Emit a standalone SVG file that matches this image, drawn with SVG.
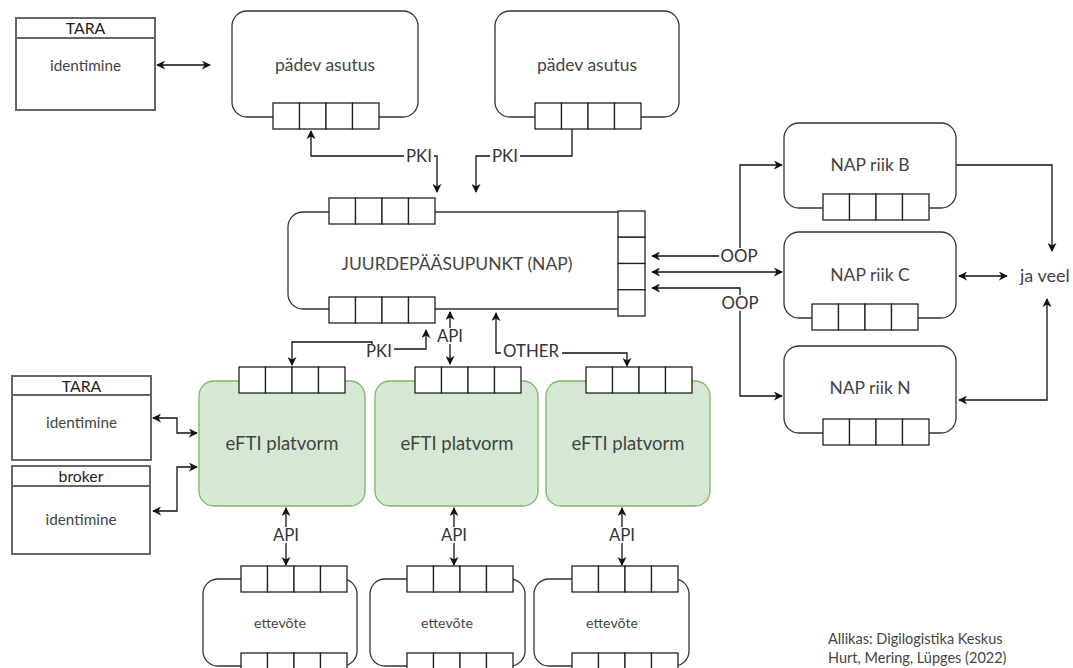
<svg xmlns="http://www.w3.org/2000/svg" xmlns:xlink="http://www.w3.org/1999/xlink" width="1073" height="668" viewBox="0 0 1073 668">
<style>
text{font-family:Lato,"Noto Sans","DejaVu Sans",sans-serif}
.box{fill:#fff;stroke:#333;stroke-width:1.3}
.green{fill:#d5e8d4;stroke:#82b366;stroke-width:1.3}
.sw{fill:#fff;stroke:#666;stroke-width:2}
.cell{fill:#fff;stroke:#222;stroke-width:1.3}
.t{font-size:17.5px;fill:#444;text-anchor:middle}
.ti{font-size:15.3px;fill:#444;text-anchor:middle}
.tb{font-size:18.5px;fill:#444;text-anchor:middle}
.ts{font-size:14.2px;fill:#444;text-anchor:middle}
.th{font-size:15.8px;fill:#222;text-anchor:middle}
.lab{font-size:16.8px;fill:#333;text-anchor:middle}
.c{fill:none;stroke:#111;stroke-width:1.3;marker-end:url(#ar)}
.d{marker-start:url(#ar)}
.lb{fill:#fff;stroke:none}
.ft{font-size:14.5px;fill:#444}
</style>
<defs>
<marker id="ar" viewBox="0 0 10 10" refX="9" refY="5" markerWidth="9" markerHeight="9" markerUnits="userSpaceOnUse" orient="auto-start-reverse">
<path d="M0,0 L10,5 L0,10 L3,5 z" fill="#111"/>
</marker>
<g id="hp">
<rect class="cell" x="0" y="0" width="26.5" height="26"/>
<rect class="cell" x="26.5" y="0" width="26.5" height="26"/>
<rect class="cell" x="53" y="0" width="26.5" height="26"/>
<rect class="cell" x="79.5" y="0" width="26.5" height="26"/>
</g>
<g id="vp">
<rect class="cell" x="0" y="0" width="27" height="26.25"/>
<rect class="cell" x="0" y="26.25" width="27" height="26.25"/>
<rect class="cell" x="0" y="52.5" width="27" height="26.25"/>
<rect class="cell" x="0" y="78.75" width="27" height="26.25"/>
</g>
</defs>

<g id="connectors">
<path class="c d" d="M157,65 H210"/>
<path class="c d" d="M311,131 V156 H437 V192"/>
<path class="c" d="M572,129 V156 H476 V192"/>
<path class="c d" d="M652,256 H740 V165 H782"/>
<path class="c d" d="M652,272 H782"/>
<path class="c d" d="M652,288 H740 V396 H782"/>
<path class="c" d="M956,165 H1052 V251"/>
<path class="c d" d="M959,276 H1007"/>
<path class="c d" d="M959,400 H1047 V299"/>
<path class="c d" d="M292,365 V342 H372 V349 H426 V330"/>
<path class="c d" d="M450,312 V364"/>
<path class="c d" d="M496,313 V353 H627 V366"/>
<path class="c d" d="M286,508 V565"/>
<path class="c d" d="M454,508 V565"/>
<path class="c d" d="M622,508 V565"/>
<path class="c d" d="M153,418 H177 V433 H197"/>
<path class="c d" d="M153,511 H177 V467 H197"/>
<rect class="lb" x="404" y="148" width="30" height="16"/>
<text class="lab" x="419" y="162">PKI</text>
<rect class="lb" x="490" y="148" width="30" height="16"/>
<text class="lab" x="505" y="162">PKI</text>
<rect class="lb" x="719" y="248" width="41" height="16"/>
<text class="lab" x="739" y="262">OOP</text>
<rect class="lb" x="719" y="295" width="42" height="16"/>
<text class="lab" x="740" y="309">OOP</text>
<rect class="lb" x="364" y="344" width="30" height="15"/>
<text class="lab" x="379" y="357">PKI</text>
<rect class="lb" x="435" y="328" width="31" height="16"/>
<text class="lab" x="450" y="342">API</text>
<rect class="lb" x="501" y="344" width="61" height="15"/>
<text class="lab" x="531" y="357">OTHER</text>
<rect class="lb" x="271" y="527" width="31" height="16"/>
<text class="lab" x="286" y="541">API</text>
<rect class="lb" x="439" y="527" width="31" height="16"/>
<text class="lab" x="454" y="541">API</text>
<rect class="lb" x="607" y="527" width="31" height="16"/>
<text class="lab" x="622" y="541">API</text>
</g>

<g id="tara1">
<rect class="sw" x="16" y="18" width="139" height="92"/>
<line x1="16" y1="38" x2="155" y2="38" stroke="#666" stroke-width="2"/>
<text class="th" x="85.5" y="33.5">TARA</text>
<text class="ti" x="85.5" y="71">identimine</text>
</g>

<g id="padev1">
<rect class="box" x="232" y="11" width="186" height="106" rx="15"/>
<text class="t" x="325" y="71">pädev asutus</text>
<use xlink:href="#hp" x="273" y="103"/>
</g>

<g id="padev2">
<rect class="box" x="495" y="11" width="184" height="106" rx="15"/>
<text class="t" x="587" y="71">pädev asutus</text>
<use xlink:href="#hp" x="535" y="103"/>
</g>

<g id="nap">
<rect class="box" x="288" y="212" width="344" height="97" rx="15"/>
<text class="t" x="457" y="270">JUURDEPÄÄSUPUNKT (NAP)</text>
<use xlink:href="#hp" x="329" y="198"/>
<use xlink:href="#hp" x="329" y="297"/>
<use xlink:href="#vp" x="618" y="211"/>
</g>

<g id="napB">
<rect class="box" x="784" y="123" width="172" height="85" rx="15"/>
<text class="t" x="870" y="171">NAP riik B</text>
<use xlink:href="#hp" x="823" y="194"/>
</g>
<g id="napC">
<rect class="box" x="784" y="232" width="172" height="86" rx="15"/>
<text class="t" x="870" y="281">NAP riik C</text>
<use xlink:href="#hp" x="812" y="304"/>
</g>
<g id="napN">
<rect class="box" x="784" y="346" width="172" height="87" rx="15"/>
<text class="t" x="870" y="394">NAP riik N</text>
<use xlink:href="#hp" x="823" y="419"/>
</g>

<g id="javeel">
<text x="1020" y="282" style="font-size:18px;fill:#444">ja veel</text>
</g>

<g id="tara2">
<rect class="sw" x="12" y="376" width="139" height="84"/>
<line x1="12" y1="395" x2="151" y2="395" stroke="#666" stroke-width="2"/>
<text class="th" x="81.5" y="391.5">TARA</text>
<text class="ti" x="81.5" y="428">identimine</text>
</g>
<g id="broker">
<rect class="sw" x="12" y="466" width="138" height="88"/>
<line x1="12" y1="486" x2="150" y2="486" stroke="#666" stroke-width="2"/>
<text class="th" x="81" y="481.5">broker</text>
<text class="ti" x="81" y="525">identimine</text>
</g>

<g id="efti1">
<rect class="green" x="199" y="381" width="166" height="125" rx="15"/>
<text class="tb" x="282" y="449.5">eFTI platvorm</text>
<use xlink:href="#hp" x="239" y="367"/>
</g>
<g id="efti2">
<rect class="green" x="375" y="381" width="163" height="125" rx="15"/>
<text class="tb" x="457" y="449.5">eFTI platvorm</text>
<use xlink:href="#hp" x="415" y="367"/>
</g>
<g id="efti3">
<rect class="green" x="546" y="381" width="164" height="125" rx="15"/>
<text class="tb" x="628" y="449.5">eFTI platvorm</text>
<use xlink:href="#hp" x="586" y="367"/>
</g>

<g id="ettevote1">
<rect class="box" x="203" y="579" width="154" height="87" rx="15"/>
<text class="ts" x="280" y="628">ettevõte</text>
<use xlink:href="#hp" x="241" y="566"/>
<use xlink:href="#hp" x="241" y="653"/>
</g>
<g id="ettevote2">
<rect class="box" x="370" y="579" width="155" height="87" rx="15"/>
<text class="ts" x="447" y="628">ettevõte</text>
<use xlink:href="#hp" x="407" y="566"/>
<use xlink:href="#hp" x="407" y="653"/>
</g>
<g id="ettevote3">
<rect class="box" x="534" y="579" width="155" height="87" rx="15"/>
<text class="ts" x="612" y="628">ettevõte</text>
<use xlink:href="#hp" x="572" y="566"/>
<use xlink:href="#hp" x="572" y="653"/>
</g>

<g id="source">
<text class="ft" x="828" y="644">Allikas: Digilogistika Keskus</text>
<text class="ft" x="828" y="663">Hurt, Mering, Lüpges (2022)</text>
</g>
</svg>
